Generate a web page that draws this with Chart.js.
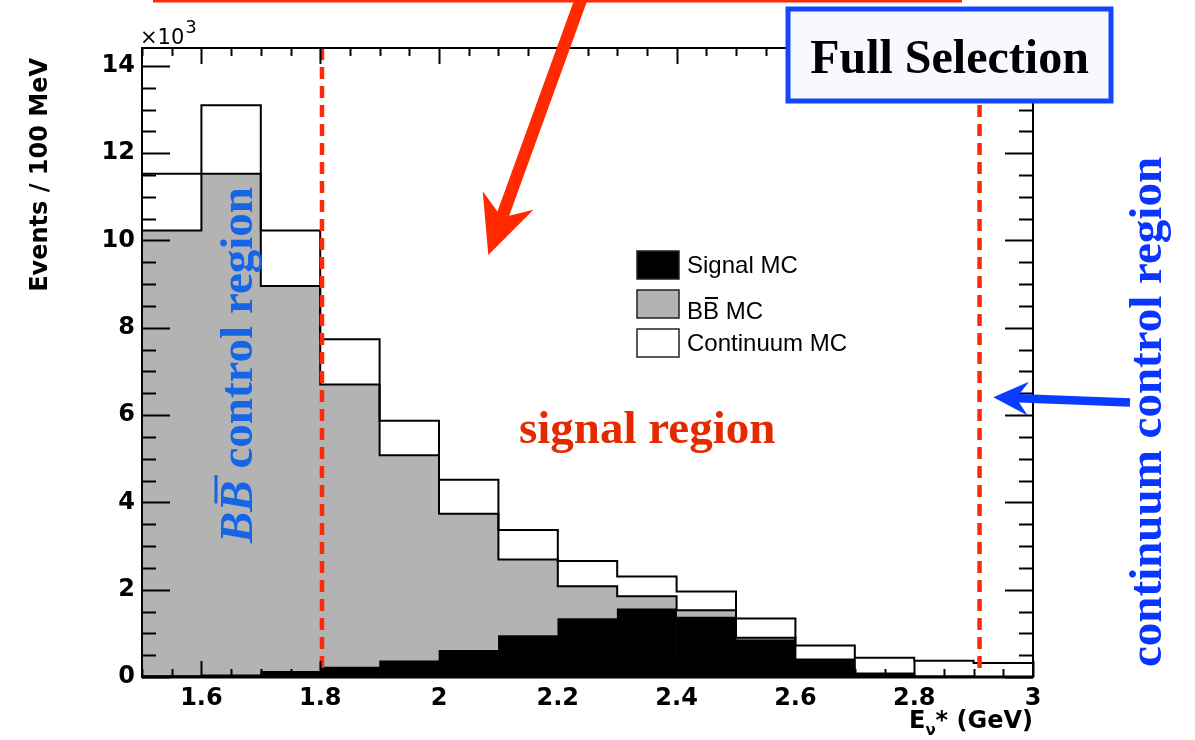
<!DOCTYPE html>
<html>
<head>
<meta charset="utf-8">
<title>E_nu* spectrum, full selection</title>
<script src="https://cdn.jsdelivr.net/npm/chart.js@4.4.1/dist/chart.umd.min.js"></script>
<style>
  html, body { margin: 0; padding: 0; background: #fff; }
  #wrap { position: relative; width: 1195px; height: 740px; }
</style>
</head>
<body>
<div id="wrap"><canvas id="chart"></canvas></div>
<script>
// ---------------------------------------------------------------------------
// Histogram contents: events per 100 MeV bin of E_nu* (GeV)
// ---------------------------------------------------------------------------
const binEdges = [1.5, 1.6, 1.7, 1.8, 1.9, 2.0, 2.1, 2.2, 2.3, 2.4, 2.5, 2.6, 2.7, 2.8, 2.9, 3.0];
const signalMC    = [30, 50, 130, 230, 370, 610, 950, 1340, 1560, 1370, 850, 390, 80, 10, 0];
const bbbarMC     = [10200, 11480, 8830, 6470, 4710, 3130, 1740, 740, 290, 160, 50, 10, 0, 0, 0];
const continuumMC = [1300, 1570, 1270, 1040, 790, 780, 680, 580, 450, 430, 440, 320, 360, 360, 320];

const xTicks = [1.6, 1.8, 2.0, 2.2, 2.4, 2.6, 2.8, 3.0];
const xTickLabels = ['1.6', '1.8', '2', '2.2', '2.4', '2.6', '2.8', '3'];
const yTicks = [0, 2000, 4000, 6000, 8000, 10000, 12000, 14000];
const yTickLabels = ['0', '2', '4', '6', '8', '10', '12', '14'];
const yMax = 14410;

// selection cuts on E_nu* (GeV)
const cutEdges = [1.803, 2.91];

// ---------------------------------------------------------------------------
// derived series
// ---------------------------------------------------------------------------
const binCenters = binEdges.slice(0, -1).map(e => +(e + 0.05).toFixed(2));
const binPoints = vals => vals.map((v, i) => ({ x: binCenters[i], y: v }));

// stack tops for the step outlines
const bbTop = signalMC.map((v, i) => v + bbbarMC[i]);
const totalTop = bbTop.map((v, i) => v + continuumMC[i]);
const stepPoints = vals => {
    const pts = vals.map((v, i) => ({ x: binEdges[i], y: v }));
    pts.push({ x: binEdges[binEdges.length - 1], y: vals[vals.length - 1] });
    return pts;
};

const RED = '#ff2a0a';
const SERIF = '"Liberation Serif", "DejaVu Serif", serif';

// ---------------------------------------------------------------------------
// drawing helpers
// ---------------------------------------------------------------------------
function line(ctx, x0, y0, x1, y1) {
    ctx.beginPath();
    ctx.moveTo(x0, y0);
    ctx.lineTo(x1, y1);
    ctx.stroke();
}

function arrow(ctx, x0, y0, x1, y1, shaft, headLen, headHalf, notch, color) {
    const dx = x1 - x0, dy = y1 - y0, L = Math.hypot(dx, dy);
    const ux = dx / L, uy = dy / L, nx = -uy, ny = ux;
    const p = (a, s) => [x0 + ux * a + nx * s, y0 + uy * a + ny * s];
    const pts = [p(0, -shaft / 2), p(L - notch, -shaft / 2), p(L - headLen, -headHalf), p(L, 0),
                 p(L - headLen, headHalf), p(L - notch, shaft / 2), p(0, shaft / 2)];
    ctx.beginPath();
    pts.forEach((q, i) => i ? ctx.lineTo(q[0], q[1]) : ctx.moveTo(q[0], q[1]));
    ctx.closePath();
    ctx.fillStyle = color;
    ctx.fill();
}

// "BB" with a bar over the second B, then the rest of the string
function drawBBbar(ctx, x, y, rest, font, italicFont, barW) {
    const f = italicFont || font;
    ctx.font = f;
    const wB = ctx.measureText('B').width;
    ctx.fillText('B', x, y);
    ctx.fillText('B', x + wB, y);
    const cap = ctx.measureText('B').actualBoundingBoxAscent;
    const slant = italicFont ? cap * 0.2 : 0;
    ctx.save();
    ctx.strokeStyle = ctx.fillStyle;
    ctx.lineWidth = barW;
    line(ctx, x + wB + slant + 2, y - cap - barW - 2, x + 2 * wB + slant - 1, y - cap - barW - 2);
    ctx.restore();
    ctx.font = font;
    ctx.fillText(rest, x + 2 * wB, y);
}

// ---------------------------------------------------------------------------
// frame, ticks, legend and annotations
// ---------------------------------------------------------------------------
const histFrame = {
    id: 'histFrame',
    afterDraw(chart) {
        const { ctx, chartArea: a, scales: { x, y } } = chart;
        ctx.save();

        // cut lines
        ctx.strokeStyle = RED;
        ctx.lineWidth = 4.5;
        ctx.setLineDash([12, 7]);
        cutEdges.forEach(v => {
            const px = x.getPixelForValue(v);
            line(ctx, px, a.top, px, a.bottom - 5);
        });
        ctx.setLineDash([]);

        // inward ticks on all four sides
        ctx.strokeStyle = '#000';
        ctx.lineWidth = 2;
        for (let v = 0; v <= yMax; v += 500) {
            const py = Math.round(y.getPixelForValue(v)) + 0.5;
            const len = v % 2000 === 0 ? 28 : 14;
            line(ctx, a.left, py, a.left + len, py);
            line(ctx, a.right, py, a.right - len, py);
        }
        for (let i = 0; i <= 30; i++) {
            const px = Math.round(x.getPixelForValue(1.5 + i * 0.05)) + 0.5;
            const len = i % 4 === 2 ? 16 : 8;
            line(ctx, px, a.bottom, px, a.bottom - len);
            line(ctx, px, a.top, px, a.top + len);
        }

        // frame
        ctx.strokeRect(a.left, a.top, a.right - a.left, a.bottom - a.top);
        ctx.lineWidth = 3;
        line(ctx, a.left, a.bottom, a.right, a.bottom);

        // legend
        const legendX = 637, legendY = 251, rowStep = 39;
        const barSets = chart.data.datasets.filter(d => d.type === 'bar');
        barSets.forEach((d, i) => {
            const top = legendY + i * rowStep;
            ctx.fillStyle = d.backgroundColor;
            ctx.fillRect(legendX, top, 42, 28);
            ctx.lineWidth = 1.5;
            ctx.strokeStyle = '#222';
            ctx.strokeRect(legendX, top, 42, 28);
            ctx.fillStyle = '#000';
            ctx.textAlign = 'left';
            ctx.textBaseline = 'alphabetic';
            const font = '24px "Liberation Sans", Arial, sans-serif';
            ctx.font = font;
            if (d.barB) {
                drawBBbar(ctx, legendX + 50, top + 29, d.label.slice(2), font, null, 2);
            } else {
                ctx.fillText(d.label, legendX + 50, top + 22);
            }
        });

        // axis titles
        ctx.fillStyle = '#000';
        ctx.save();
        ctx.translate(47, 58);
        ctx.rotate(-Math.PI / 2);
        ctx.font = 'bold 24px "DejaVu Sans", sans-serif';
        ctx.textAlign = 'right';
        ctx.fillText('Events / 100 MeV', 0, 0);
        ctx.restore();

        ctx.textAlign = 'left';
        ctx.font = '21px "DejaVu Sans", sans-serif';
        ctx.fillText('\u00d710', 140, 44);
        const w10 = ctx.measureText('\u00d710').width;
        ctx.font = '18px "DejaVu Sans", sans-serif';
        ctx.fillText('3', 140 + w10 + 1, 33);

        const fBig = 'bold 24px "DejaVu Sans", sans-serif';
        const fSub = 'bold 15px "DejaVu Sans", sans-serif';
        ctx.font = fBig;
        const wE = ctx.measureText('E').width, wRest = ctx.measureText('* (GeV)').width;
        ctx.font = fSub;
        const wNu = ctx.measureText('\u03bd').width;
        let tx = a.right - (wE + wNu + wRest);
        ctx.font = fBig;
        ctx.fillText('E', tx, 728);
        ctx.font = fSub;
        ctx.fillText('\u03bd', tx + wE, 735);
        ctx.font = fBig;
        ctx.fillText('* (GeV)', tx + wE + wNu, 728);

        // red box edge and arrow into the signal region
        ctx.strokeStyle = RED;
        ctx.lineWidth = 3;
        line(ctx, 153, 1, 962, 1);
        arrow(ctx, 581.5, -2, 488.3, 255, 12.5, 58, 27, 44, '#ff2a00');

        ctx.font = 'bold 47px ' + SERIF;
        ctx.fillStyle = '#e42a00';
        ctx.fillText('signal region', 519, 443);

        // BB control region label
        ctx.save();
        ctx.translate(252, 543);
        ctx.rotate(-Math.PI / 2);
        ctx.fillStyle = '#1565e6';
        drawBBbar(ctx, 0, 0, ' control region', 'bold 47px ' + SERIF, 'italic bold 47px ' + SERIF, 3);
        ctx.restore();

        // continuum control region label and arrow
        ctx.save();
        ctx.translate(1161, 667);
        ctx.rotate(-Math.PI / 2);
        ctx.fillStyle = '#0a34ff';
        ctx.font = 'bold 47px ' + SERIF;
        ctx.fillText('continuum control region', 0, 0);
        ctx.restore();
        arrow(ctx, 1130, 402.5, 993.3, 397.3, 8.5, 35, 17, 26, '#0a3cff');

        // selection tag
        ctx.fillStyle = '#f8f9ff';
        ctx.fillRect(788, 9, 323, 92);
        ctx.strokeStyle = '#1446ff';
        ctx.lineWidth = 5;
        ctx.strokeRect(788, 9, 323, 92);
        ctx.fillStyle = '#000';
        ctx.font = 'bold 48px ' + SERIF;
        ctx.textAlign = 'center';
        ctx.fillText('Full Selection', 949.5, 73);

        ctx.restore();
    }
};

// ---------------------------------------------------------------------------
// chart
// ---------------------------------------------------------------------------
const tickFont = { family: '"DejaVu Sans", sans-serif', size: 24, weight: 'bold' };

const barStyle = { type: 'bar', stack: 'mc', order: 3, borderWidth: 0,
                   categoryPercentage: 1.0, barPercentage: 1.0 };
const outlineStyle = { type: 'line', stepped: true, borderColor: '#000', borderWidth: 2,
                       pointRadius: 0, fill: false, order: 1 };

new Chart(document.getElementById('chart'), {
    data: {
        datasets: [
            { ...barStyle, label: 'Signal MC', data: binPoints(signalMC), backgroundColor: '#000000' },
            { ...barStyle, label: 'BB MC', barB: true, data: binPoints(bbbarMC), backgroundColor: '#b3b3b3' },
            { ...barStyle, label: 'Continuum MC', data: binPoints(continuumMC), backgroundColor: '#ffffff' },
            { ...outlineStyle, label: 'BB outline', stack: 'o1', data: stepPoints(bbTop) },
            { ...outlineStyle, label: 'total outline', stack: 'o2', data: stepPoints(totalTop) }
        ]
    },
    options: {
        responsive: true,
        maintainAspectRatio: false,
        animation: false,
        events: [],
        layout: { padding: { left: 0, top: 48, right: 162, bottom: 0 } },
        plugins: { legend: { display: false }, tooltip: { enabled: false } },
        scales: {
            x: {
                type: 'linear',
                offset: false,
                min: binEdges[0],
                max: binEdges[binEdges.length - 1],
                stacked: true,
                grid: { display: false, drawTicks: false, offset: false },
                border: { display: false },
                afterBuildTicks: s => { s.ticks = xTicks.map(v => ({ value: v })); },
                afterFit: s => { s.height = 63; },
                ticks: {
                    color: '#000', font: tickFont, padding: 7, maxRotation: 0, autoSkip: false,
                    callback: (v, i) => xTickLabels[i]
                }
            },
            y: {
                min: 0,
                max: yMax,
                stacked: true,
                grid: { display: false, drawTicks: false },
                border: { display: false },
                afterBuildTicks: s => { s.ticks = yTicks.map(v => ({ value: v })); },
                afterFit: s => { s.width = 142; },
                ticks: {
                    color: '#000', font: tickFont, padding: 7, autoSkip: false,
                    callback: (v, i) => yTickLabels[i]
                }
            }
        }
    },
    plugins: [histFrame]
});
</script>
</body>
</html>
